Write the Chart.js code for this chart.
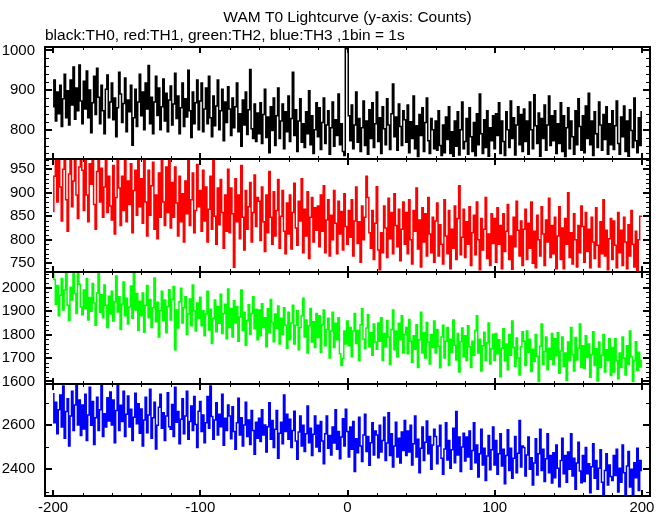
<!DOCTYPE html>
<html>
<head>
<meta charset="utf-8">
<script src="https://cdn.jsdelivr.net/npm/chart.js@4.4.0/dist/chart.umd.min.js"></script>
<style>
  body { margin: 0; background: #fff; }
  #wrap { width: 669px; height: 515px; }
</style>
</head>
<body>
<div id="wrap"><canvas id="lc" width="669" height="515"></canvas></div>
<script>
// 1 bin = 1 s, first bin at t = -200 s
var binStart = -200;
var xTicks = [-200, -100, 0, 100, 200];
var th0Ticks = [800, 900, 1000];
var th1Ticks = [750, 800, 850, 900, 950];
var th2Ticks = [1600, 1700, 1800, 1900, 2000];
var th3Ticks = [2400, 2600];

// TH0 (black)
var th0 = [
  858,925,822,895,840,912,808,878,940,830,898,812,925,862,958,826,905,848,963,872,
  815,922,852,948,830,900,792,868,935,838,955,882,815,912,848,790,902,938,830,870,
  918,825,880,782,855,945,890,818,866,930,795,875,845,912,761,830,902,808,870,940,
  835,895,800,918,852,962,815,882,790,870,935,836,905,800,858,928,822,892,795,875,
  910,812,865,942,828,885,790,855,918,808,878,832,950,848,780,895,815,868,925,800,
  872,918,795,852,905,815,935,830,782,885,810,860,925,800,848,902,772,870,818,908,
  852,785,880,805,858,918,795,840,758,875,812,895,788,850,952,802,778,865,770,842,
  790,868,765,838,902,780,832,742,858,798,880,760,835,905,778,822,865,752,845,795,
  885,770,828,945,785,850,745,822,878,768,815,755,845,790,898,762,835,740,800,868,
  782,855,750,818,880,765,812,848,738,805,870,758,825,785,890,762,815,745,735,1012,
  1004,835,772,862,752,812,895,768,828,745,805,872,760,822,738,850,778,868,755,815,
  895,770,830,740,858,802,762,878,812,750,840,915,782,832,748,865,808,760,848,825,
  768,862,742,820,778,885,752,810,732,838,785,855,745,818,880,772,740,828,800,752,
  822,748,848,760,735,812,742,832,775,858,740,795,733,822,758,845,736,800,870,752,
  770,828,738,855,782,745,818,734,840,762,890,790,740,825,755,848,733,805,772,835,
  752,840,785,868,740,822,770,735,845,800,755,872,778,830,736,812,858,762,838,745,
  852,770,822,738,870,800,752,888,810,765,842,733,828,778,862,748,812,885,760,835,
  772,848,740,815,765,868,745,835,732,805,855,752,822,782,738,848,762,878,808,748,
  835,742,860,778,892,762,822,735,845,790,755,870,812,748,838,775,858,738,815,762,
  848,750,810,872,765,738,832,782,860,745,822,733,850,798,755,880,772,742,830,760,
  845
];

// TH1 (red)
var th1 = [
  860,935,975,880,985,912,840,950,972,885,818,940,990,870,925,968,895,845,955,980,
  948,862,975,895,838,962,918,985,875,822,945,975,880,952,848,912,970,858,935,872,
  842,958,812,890,978,910,830,935,862,968,838,925,875,962,815,905,948,852,975,870,
  930,835,985,880,808,948,852,915,965,822,895,802,942,848,972,880,830,955,858,980,
  825,922,848,955,878,808,935,838,898,795,925,855,972,830,885,942,815,862,960,870,
  905,818,948,840,912,795,865,935,822,968,850,790,910,832,928,858,782,895,818,950,
  815,910,855,741,930,838,895,802,958,848,778,905,822,870,922,795,858,938,828,890,
  882,798,912,838,775,895,815,945,848,790,902,808,862,928,782,850,905,818,770,878,
  812,895,780,858,920,825,788,882,840,930,772,865,808,902,760,848,890,795,868,820,
  872,785,895,818,915,772,842,885,765,852,800,905,835,770,882,812,860,778,898,828,
  790,862,805,885,765,840,912,792,838,752,872,800,848,935,890,815,782,862,758,835,
  913,778,736,815,772,872,825,762,888,802,858,770,898,830,785,865,755,822,880,790,
  858,770,885,800,748,862,818,910,780,842,742,868,795,855,765,890,812,772,848,752,
  840,878,765,832,790,748,885,808,770,862,738,822,782,872,758,845,915,768,805,865,
  762,838,790,870,745,815,852,768,880,800,736,845,778,822,890,760,812,745,855,792,
  845,752,868,790,830,738,855,775,818,875,758,808,737,848,785,882,820,765,840,745,
  822,865,758,835,782,880,750,818,740,852,800,765,870,812,745,842,795,888,762,830,
  770,848,738,808,870,758,825,738,845,790,900,762,815,748,855,800,742,830,772,872,
  828,752,858,775,822,740,848,795,760,868,788,742,838,770,885,765,820,736,802,845,
  758,840,788,740,858,772,820,745,848,795,738,832,765,862,790,742,818,735,800,850,
  850
];

// TH2 (green)
var th2 = [
  2072,2035,1930,2010,1880,1968,2040,1905,1990,2060,1925,1860,2002,1948,2066,1975,1890,2074,2015,1918,
  1885,1990,1912,2040,1862,1958,1900,2018,1935,1840,1978,2062,1895,1970,1872,2012,1925,1830,1964,1888,
  1985,1858,1940,2050,1896,1962,1822,1930,2025,1880,1955,1845,1918,2008,1870,2066,1905,1975,1818,1942,
  1880,1978,1810,1925,2010,1872,1950,1830,1915,2042,1855,1938,1790,1902,1985,1860,1948,1808,1920,1992,
  1862,1950,2005,1735,1905,1828,1940,1998,1850,1915,1962,1800,1888,1952,1838,2012,1902,1815,1935,1870,
  1960,1838,1902,1795,1888,1985,1820,1908,1762,1870,1948,1812,1920,1848,1972,1805,1890,1930,1782,1995,
  1830,1912,1790,1945,1850,1920,1772,1875,1990,1818,1895,1755,1860,1928,1802,1890,1962,1825,1908,1778,
  1905,1795,1932,1830,1872,1748,1910,1808,1950,1852,1770,1888,1826,1922,1760,1870,1800,1915,1840,1742,
  1895,1778,1850,1925,1760,1840,1902,1735,1830,1880,1955,1790,1862,1722,1838,1912,1768,1855,1745,1890,
  1788,1880,1725,1842,1905,1752,1822,1870,1700,1815,1895,1745,1848,1778,1872,1718,1668,1698,1815,1760,
  1858,1752,1830,1705,1815,1890,1762,1818,1690,1842,1910,1780,1740,1828,1885,1748,1808,1712,1845,1768,
  1738,1850,1772,1872,1690,1805,1748,1860,1790,1672,1822,1905,1735,1815,1705,1848,1778,1880,1722,1800,
  1830,1718,1865,1772,1682,1795,1738,1842,1660,1778,1895,1722,1808,1700,1852,1768,1675,1800,1745,1858,
  1722,1822,1750,1658,1790,1840,1700,1772,1830,1668,1780,1725,1862,1755,1692,1805,1640,1770,1828,1705,
  1795,1690,1838,1748,1660,1772,1712,1818,1880,1722,1780,1645,1752,1810,1690,1765,1850,1675,1740,1802,
  1690,1805,1718,1778,1620,1742,1825,1688,1760,1650,1800,1712,1858,1745,1665,1785,1700,1628,1748,1812,
  1772,1668,1815,1725,1780,1642,1738,1685,1800,1708,1600,1750,1845,1672,1728,1790,1650,1742,1695,1805,
  1672,1782,1710,1808,1635,1730,1790,1665,1722,1605,1768,1690,1830,1715,1645,1788,1692,1742,1845,1660,
  1752,1655,1795,1702,1760,1618,1715,1812,1668,1740,1602,1768,1660,1712,1800,1640,1735,1690,1782,1625,
  1745,1640,1782,1688,1612,1722,1660,1790,1700,1628,1752,1672,1815,1705,1600,1690,1770,1648,1725,1662,
  1690
];

// TH3 (blue)
var th3 = [
  2740,2610,2702,2560,2668,2735,2590,2775,2540,2660,2718,2505,2640,2752,2575,2690,2782,2600,2712,2552,
  2690,2582,2738,2530,2645,2770,2598,2705,2512,2632,2725,2575,2668,2778,2548,2650,2590,2722,2618,2748,
  2600,2712,2520,2665,2782,2575,2688,2615,2752,2548,2648,2730,2590,2670,2530,2635,2742,2605,2695,2562,
  2672,2505,2622,2725,2565,2645,2760,2540,2632,2702,2492,2598,2680,2738,2585,2655,2530,2640,2745,2592,
  2580,2692,2548,2770,2612,2660,2515,2625,2718,2560,2640,2752,2535,2615,2685,2575,2728,2602,2498,2662,
  2705,2570,2645,2520,2610,2728,2585,2775,2638,2535,2622,2700,2555,2648,2592,2738,2508,2630,2575,2690,
  2640,2538,2682,2570,2490,2610,2720,2555,2632,2505,2600,2702,2548,2622,2512,2665,2575,2468,2612,2540,
  2630,2525,2668,2555,2600,2478,2592,2700,2535,2620,2498,2580,2665,2450,2562,2612,2515,2735,2570,2648,
  2535,2625,2498,2575,2662,2528,2445,2568,2640,2505,2598,2480,2560,2685,2520,2585,2462,2558,2640,2500,
  2598,2480,2615,2528,2425,2560,2640,2495,2552,2465,2590,2518,2668,2490,2570,2448,2545,2628,2505,2670,
  2570,2455,2590,2490,2615,2390,2538,2475,2635,2505,2435,2555,2648,2480,2548,2418,2520,2610,2465,2572,
  2555,2452,2598,2478,2530,2635,2440,2518,2655,2462,2560,2410,2505,2612,2455,2540,2428,2568,2485,2620,
  2462,2572,2478,2598,2420,2515,2640,2455,2535,2385,2495,2590,2440,2522,2618,2470,2548,2400,2510,2580,
  2548,2425,2505,2598,2450,2378,2492,2610,2442,2530,2405,2488,2585,2430,2660,2465,2545,2390,2500,2562,
  2438,2545,2455,2572,2400,2485,2610,2430,2510,2365,2470,2580,2420,2495,2350,2460,2552,2398,2488,2590,
  2420,2530,2378,2470,2560,2415,2490,2335,2462,2578,2395,2495,2360,2450,2548,2385,2472,2620,2410,2505,
  2498,2370,2465,2545,2400,2452,2330,2428,2538,2375,2470,2580,2395,2490,2345,2448,2560,2385,2462,2338,
  2475,2362,2510,2405,2322,2440,2540,2380,2462,2342,2478,2400,2560,2370,2450,2310,2428,2522,2392,2340,
  2462,2345,2498,2380,2425,2295,2412,2515,2360,2440,2310,2405,2488,2342,2285,2395,2470,2330,2420,2368,
  2350,2462,2372,2490,2298,2405,2342,2510,2385,2282,2415,2480,2320,2400,2283,2430,2362,2495,2305,2440,
  2395
];

var panelIds = ['y0', 'y1', 'y2', 'y3'];
var minorStep = { x: 20, y0: 20, y1: 10, y2: 20, y3: 100 };
var majorStep = { x: 100, y0: 100, y1: 50, y2: 100, y3: 200 };

Chart.defaults.font.family = '"Liberation Sans", Arial, Helvetica, sans-serif';
Chart.defaults.color = '#000';

function toPoints(arr) {
  return arr.map(function (v, i) { return { x: binStart + i, y: v }; });
}

function series(arr, color, axis) {
  return {
    data: toPoints(arr),
    yAxisID: axis,
    borderColor: color,
    borderWidth: 1.5,
    pointRadius: 0,
    stepped: 'middle',
    fill: false
  };
}

function yScale(tickArr, min, max) {
  return {
    type: 'linear',
    position: 'left',
    stack: 'panels',
    stackWeight: 1,
    min: min,
    max: max,
    grid: { display: false, drawTicks: false },
    border: { display: false },
    ticks: {
      autoSkip: false,
      padding: 10,
      font: { size: 15 },
      callback: function (v) { return String(v); }
    },
    afterBuildTicks: function (s) { s.ticks = tickArr.map(function (v) { return { value: v }; }); },
    afterFit: function (s) { s.width = 45; }
  };
}

// clip each trace to its own panel, then draw frames and inward ticks
var panelFrames = {
  id: 'panelFrames',
  beforeDatasetDraw: function (chart, args) {
    var s = chart.scales[args.meta.yAxisID], a = chart.chartArea, ctx = chart.ctx;
    ctx.save();
    ctx.beginPath();
    ctx.rect(a.left, s.top, a.right - a.left, s.bottom - s.top);
    ctx.clip();
  },
  afterDatasetDraw: function (chart) {
    chart.ctx.restore();
  },
  afterDraw: function (chart) {
    var ctx = chart.ctx, a = chart.chartArea, xs = chart.scales.x;
    ctx.save();
    ctx.strokeStyle = '#000';
    panelIds.forEach(function (id) {
      var s = chart.scales[id];
      var top = Math.round(s.top), bot = Math.round(s.bottom);
      ctx.lineWidth = 2;
      ctx.strokeRect(a.left, top, a.right - a.left, bot - top);
      var v, px, major, len, off;
      for (v = xTicks[0]; v <= xTicks[xTicks.length - 1]; v += minorStep.x) {
        px = Math.round(xs.getPixelForValue(v));
        major = v % majorStep.x === 0;
        len = major ? 6 : 3;
        off = major ? 0 : 0.5;
        ctx.lineWidth = major ? 2 : 1;
        ctx.beginPath();
        ctx.moveTo(px + off, top);
        ctx.lineTo(px + off, top + len);
        ctx.moveTo(px + off, bot);
        ctx.lineTo(px + off, bot - len);
        ctx.stroke();
      }
      var st = minorStep[id];
      for (v = Math.ceil(s.min / st) * st; v <= s.max; v += st) {
        var py = Math.round(s.getPixelForValue(v));
        major = v % majorStep[id] === 0;
        len = major ? 7 : 4;
        off = major ? 0 : 0.5;
        ctx.lineWidth = major ? 2 : 1;
        ctx.beginPath();
        ctx.moveTo(a.left, py + off);
        ctx.lineTo(a.left + len, py + off);
        ctx.moveTo(a.right, py + off);
        ctx.lineTo(a.right - len, py + off);
        ctx.stroke();
      }
    });
    ctx.restore();
  }
};

new Chart(document.getElementById('lc'), {
  type: 'line',
  data: {
    datasets: [
      series(th0, '#000000', 'y0'),
      series(th1, '#ff0000', 'y1'),
      series(th2, '#00ff00', 'y2'),
      series(th3, '#0000ff', 'y3')
    ]
  },
  options: {
    responsive: false,
    devicePixelRatio: 1,
    animation: false,
    normalized: true,
    layout: { padding: { left: 0, right: 19, top: 0, bottom: 0 } },
    scales: {
      x: {
        type: 'linear',
        position: 'bottom',
        min: -205.5,
        max: 205.5,
        grid: { display: false, drawTicks: false },
        border: { display: false },
        ticks: { autoSkip: false, padding: 3, font: { size: 15 } },
        afterBuildTicks: function (s) { s.ticks = xTicks.map(function (v) { return { value: v }; }); },
        afterFit: function (s) { s.height = 19; }
      },
      y3: yScale(th3Ticks, 2280, 2785),
      y2: yScale(th2Ticks, 1590, 2069),
      y1: yScale(th1Ticks, 732, 971),
      y0: yScale(th0Ticks, 725, 1008)
    },
    plugins: {
      legend: { display: false },
      tooltip: { enabled: false },
      title: {
        display: true,
        text: 'WAM T0 Lightcurve (y-axis: Counts)',
        fullSize: false,
        align: 'center',
        font: { size: 15.5, weight: 'normal' },
        padding: { top: 8, bottom: 0 }
      },
      subtitle: {
        display: true,
        text: 'black:TH0, red:TH1, green:TH2, blue:TH3 ,1bin = 1s',
        fullSize: false,
        align: 'start',
        font: { size: 15.5, weight: 'normal' },
        padding: { top: 0, bottom: 2 }
      }
    }
  },
  plugins: [panelFrames]
});
</script>
</body>
</html>
